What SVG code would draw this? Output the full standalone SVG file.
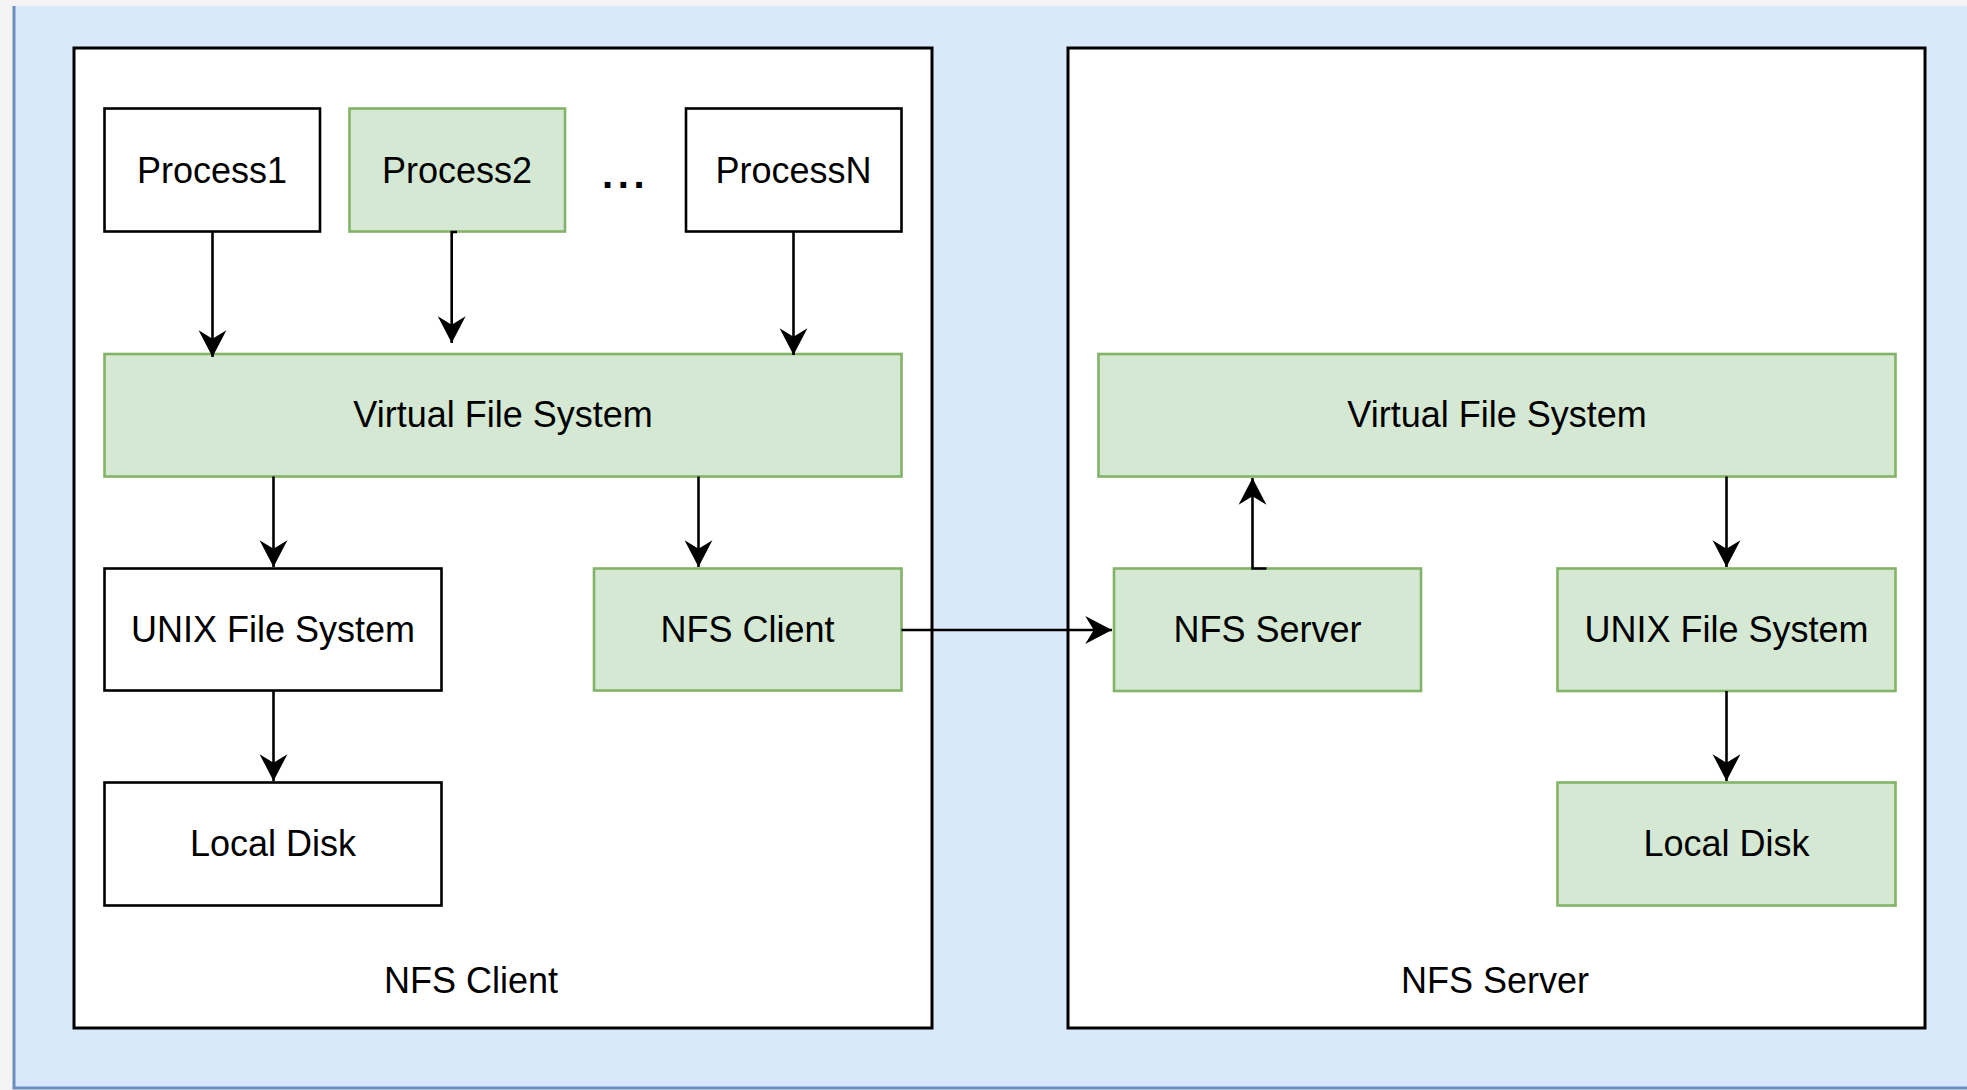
<svg xmlns="http://www.w3.org/2000/svg" width="1967" height="1090" viewBox="0 0 1967 1090">
<defs>
<style>
.box{stroke:#000;stroke-width:2.6;fill:#fff}
.g{fill:#d5e8d4;stroke:#82b366;stroke-width:2.6}
.cont{fill:#fff;stroke:#000;stroke-width:3}
.t{font-family:"Liberation Sans",Arial,sans-serif;font-size:36px;fill:#000;text-anchor:middle}
.c{fill:none;stroke:#000;stroke-width:2.6}
</style>
<marker id="ah" markerUnits="userSpaceOnUse" markerWidth="30" markerHeight="30" viewBox="-26 -14 28 28" refX="0" refY="0" orient="auto">
<path d="M0,0 L-25,-13 L-17,0 L-25,13 Z" fill="#000"/>
</marker>
</defs>
<rect x="0" y="0" width="1967" height="1090" fill="#f4f4f4"/>
<rect x="14" y="6" width="1953" height="1082" fill="#dae8fc"/>
<path d="M14,6 V1088 H1967" fill="none" stroke="#6c8ebf" stroke-width="3"/>
<g id="client-container">
<rect class="cont" x="74" y="48" width="858" height="980"/>
<text class="t" x="471" y="993">NFS Client</text>
</g>
<g id="server-container">
<rect class="cont" x="1068" y="48" width="857" height="980"/>
<text class="t" x="1495" y="993">NFS Server</text>
</g>
<g id="process1"><rect class="box" x="104.5" y="108.5" width="215.5" height="123"/><text class="t" x="212" y="183">Process1</text></g>
<g id="process2"><rect class="g" x="349.5" y="108.5" width="215.5" height="123"/><text class="t" x="457" y="183">Process2</text></g>
<g id="dots"><text x="602" y="188" style="font-family:'Liberation Sans',Arial,sans-serif;font-size:40px;font-weight:bold;letter-spacing:4.6px;fill:#000">...</text></g>
<g id="processN"><rect class="box" x="686" y="108.5" width="215.5" height="123"/><text class="t" x="793.5" y="183">ProcessN</text></g>
<g id="client-vfs"><rect class="g" x="104.5" y="354" width="797" height="122.5"/><text class="t" x="503" y="427">Virtual File System</text></g>
<g id="client-unixfs"><rect class="box" x="104.5" y="568.5" width="337" height="122"/><text class="t" x="273" y="642">UNIX File System</text></g>
<g id="nfs-client"><rect class="g" x="594" y="568.5" width="307.5" height="122"/><text class="t" x="747.5" y="642">NFS Client</text></g>
<g id="client-localdisk"><rect class="box" x="104.5" y="782.5" width="337" height="123"/><text class="t" x="273" y="856">Local Disk</text></g>
<g id="server-vfs"><rect class="g" x="1098.5" y="354" width="797" height="122.5"/><text class="t" x="1497" y="427">Virtual File System</text></g>
<g id="nfs-server"><rect class="g" x="1114" y="568.5" width="307" height="122.5"/><text class="t" x="1267.5" y="642">NFS Server</text></g>
<g id="server-unixfs"><rect class="g" x="1557.5" y="568.5" width="338" height="122.5"/><text class="t" x="1726.5" y="642">UNIX File System</text></g>
<g id="server-localdisk"><rect class="g" x="1557.5" y="782.5" width="338" height="123"/><text class="t" x="1726.5" y="856">Local Disk</text></g>
<g id="connectors">
<path class="c" d="M212.5,232 V357" marker-end="url(#ah)"/>
<path class="c" d="M457,232 H451.7 V343" marker-end="url(#ah)"/>
<path class="c" d="M793.5,232 V355" marker-end="url(#ah)"/>
<path class="c" d="M273.5,476.5 V567" marker-end="url(#ah)"/>
<path class="c" d="M698.5,476.5 V567" marker-end="url(#ah)"/>
<path class="c" d="M273.5,690.5 V781" marker-end="url(#ah)"/>
<path class="c" d="M901.5,630 H1112" marker-end="url(#ah)"/>
<path class="c" d="M1266.5,568.5 H1252.5 V478" marker-end="url(#ah)"/>
<path class="c" d="M1726.5,476.5 V567" marker-end="url(#ah)"/>
<path class="c" d="M1726.5,691 V781" marker-end="url(#ah)"/>
</g>
</svg>
